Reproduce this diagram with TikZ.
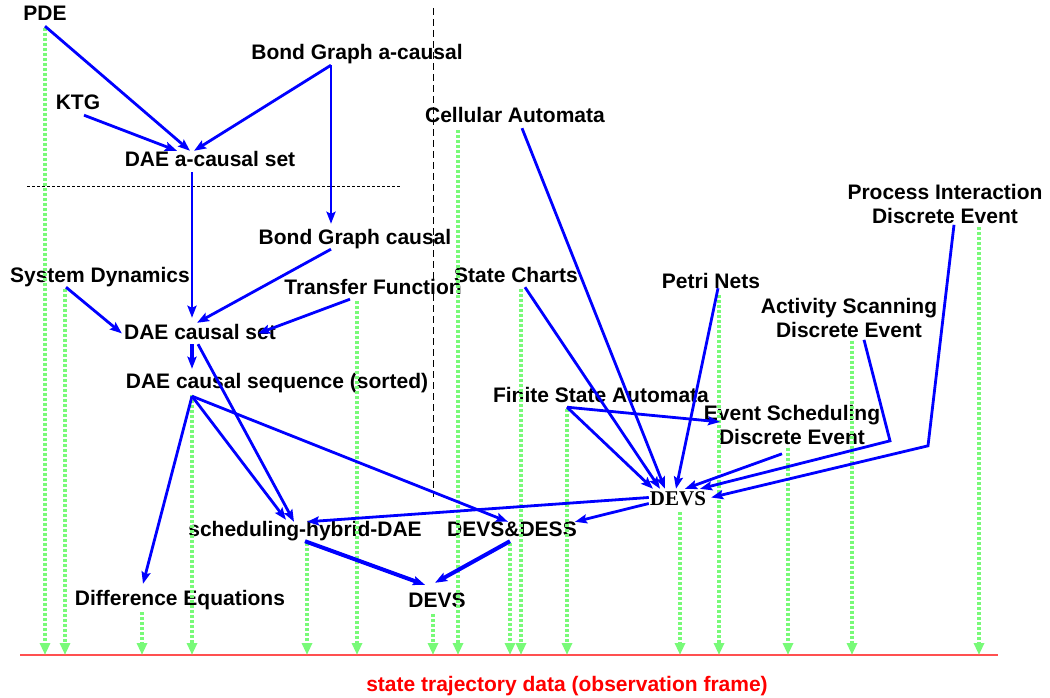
\documentclass[tikz,border=0pt]{standalone}
\usepackage{fontspec}
\setmainfont{Liberation Sans}
\newfontfamily\serifdevs{Liberation Serif}
\usetikzlibrary{arrows.meta}
\definecolor{obsgreen}{RGB}{120,250,120}
\definecolor{framered}{RGB}{255,80,80}

\begin{document}
\begin{tikzpicture}[x=1pt, y=-1pt,
            lbl/.style={font=\fontsize{21}{24}\selectfont\bfseries, inner sep=1pt, text height=15pt, text depth=4pt, anchor=base},
            lbltwo/.style={font=\fontsize{21}{24}\selectfont\bfseries, inner sep=1pt, align=center, anchor=north},
            flow/.style={blue, line width=2.8pt, -{Stealth[length=12pt,width=9pt,inset=2pt]}},
            flowthick/.style={flow, line width=4pt},
            obs/.style={obsgreen, line width=3.6pt, dash pattern=on 3pt off 2pt, -{Triangle[width=10pt,length=12pt]}}]
            \useasboundingbox (0,0) rectangle (1050,698);
            %\draw[lightgray] (0,0) grid[step=50] (1050,698);
            \node[lbl] (pde) at (45,21) {PDE};
            \node[lbl] (bga) at (357,60) {Bond Graph a-causal};
            \node[lbl] (ktg) at (78,110) {KTG};
            \node[lbl] (ca) at (515,123) {Cellular Automata};
            \node[lbl] (acset) at (210,167) {DAE a-causal set};
            \node[lbltwo] (pi) at (945,183) {Process Interaction\\Discrete Event};
            \node[lbl] (bgc) at (355,244) {Bond Graph causal};
            \node[lbl] (sysdyn) at (100,282) {System Dynamics};
            \node[lbl] (sc) at (516,282) {State Charts};
            \node[lbl] (pn) at (711,288) {Petri Nets};
            \node[lbl] (tf) at (373,294) {Transfer Function};
            \node[lbltwo] (as) at (849,297) {Activity Scanning\\Discrete Event};
            \node[lbl] (cset) at (200,339) {DAE causal set};
            \node[lbl] (seq) at (277,388) {DAE causal sequence (sorted)};
            \node[lbl] (fsa) at (601,402) {Finite State Automata};
            \node[lbltwo] (es) at (792,404) {Event Scheduling\\Discrete Event};
            \node[lbl, font=\serifdevs\fontsize{21}{24}\selectfont\bfseries] (devs) at (678,505) {DEVS};
            \node[lbl] (hybrid) at (305,536) {scheduling-hybrid-DAE};
            \node[lbl] (dd) at (512,536) {DEVS\&DESS};
            \node[lbl] (diffeq) at (180,605) {Difference Equations};
            \node[lbl] (devsb) at (437,607) {DEVS};
            \draw[dash pattern=on 7pt off 4pt, line width=0.9pt] (433,8) -- (433,497);
            \draw[dash pattern=on 3pt off 2pt, line width=0.9pt] (27,186) -- (400,186);
            \coordinate (frameL) at (20,655);
            \coordinate (frameR) at (998,655);
            \draw[framered, line width=2pt] (frameL) -- (frameR);
            \node[lbl, red] (frame) at (567,691) {state trajectory data (observation frame)};
            \foreach \n/\x in {pde/45, sysdyn/65, diffeq/142, seq/192, hybrid/307, tf/357, devsb/433, ca/458, dd/510, sc/521, fsa/567, devs/680, pn/719, es/788, as/852, pi/979} {
                \coordinate (f\n) at (\x,655);
                \draw[obs] ([yshift=-2pt]\n.south -| f\n) -- (f\n);
            }
            \draw[flow] (pde.south) -- ([xshift=-20pt]acset.north);
            \draw[flow] ([xshift=6pt]ktg.south) -- ([xshift=-33pt]acset.north);
            \draw[flow] ([xshift=-26pt]bga.south) -- ([xshift=-16pt]acset.north);
            \draw[flow] ([xshift=-26pt]bga.south) -- ([xshift=-24pt,yshift=4pt]bgc.north);
            \draw[flow] ([xshift=-18pt]acset.south) -- ([xshift=-8pt,yshift=5pt]cset.north);
            \draw[flow] ([xshift=-24pt]bgc.south) -- ([xshift=-3pt]cset.north);
            \draw[flow] ([xshift=-34pt]sysdyn.south) -- ([xshift=-1pt]cset.west);
            \draw[flow] ([xshift=-23pt]tf.south) -- ([xshift=58pt]cset.center);
            \draw[flowthick] ([xshift=-8pt]cset.south) -- ([xshift=-85pt,yshift=3pt]seq.north);
            \draw[flow] ([xshift=-2pt]cset.south) -- ([xshift=-11pt,yshift=-2pt]hybrid.north);
            \draw[flow] ([xshift=-85pt,yshift=-3pt]seq.south) -- ([xshift=-37pt,yshift=5pt]diffeq.north);
            \draw[flow] ([xshift=-85pt,yshift=-3pt]seq.south) -- ([xshift=-19pt]hybrid.north);
            \draw[flow] ([xshift=-85pt,yshift=-3pt]seq.south) -- ([xshift=-4pt,yshift=-2pt]dd.north);
            \draw[flow] ([xshift=7pt]ca.south) -- ([xshift=-13pt]devs.north);
            \draw[flow] ([xshift=9pt]sc.south) -- ([xshift=-18pt]devs.north);
            \draw[flow] ([xshift=7pt,yshift=5pt]pn.south) -- ([xshift=-2pt]devs.north);
            \draw[flow] ([xshift=-34pt]fsa.south) -- ([xshift=-25pt]devs.north);
            \draw[flow] ([xshift=-34pt]fsa.south) -- ([xshift=-72pt,yshift=3pt]es.center);
            \draw[flow] ([xshift=-10pt,yshift=-8pt]es.south) -- ([xshift=7pt]devs.north);
            \draw[flow] ([xshift=15pt,yshift=-1pt]as.south) -- ++(26,101) -- ([xshift=22pt]devs.north);
            \draw[flow] ([xshift=9pt]pi.south) -- ++(-26,221) -- ([xshift=4pt,yshift=2pt]devs.east);
            \draw[flow] ([yshift=2pt]devs.west) -- ([xshift=2pt,yshift=-2pt]hybrid.north);
            \draw[flow] ([yshift=-4pt]devs.west) -- ([xshift=-3pt,yshift=-2pt]dd.north east);
            \draw[flowthick] (hybrid.south) -- ([xshift=-12pt,yshift=6pt]devsb.north);
            \draw[flowthick] ([xshift=-2pt]dd.south) -- ([xshift=-2pt,yshift=8pt]devsb.north);
        \end{tikzpicture}
\end{document}
